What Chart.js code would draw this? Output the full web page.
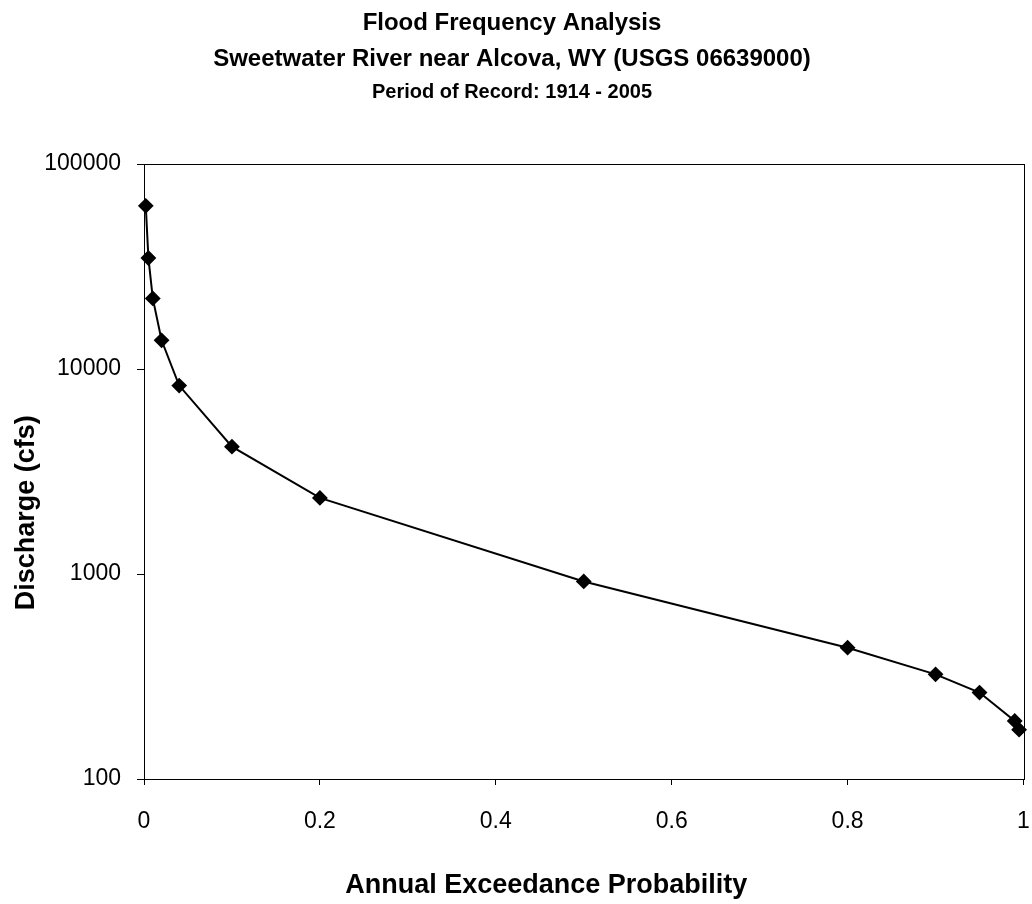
<!DOCTYPE html>
<html>
<head>
<meta charset="utf-8">
<script src="https://cdn.jsdelivr.net/npm/chart.js@4.4.1/dist/chart.umd.min.js"></script>
<style>
  html, body { margin: 0; padding: 0; background: #ffffff; }
  #wrap { width: 1032px; height: 904px; position: relative; }
</style>
</head>
<body>
<div id="wrap"><canvas id="c" width="1032" height="904"></canvas></div>
<script>
// ---- data ----
const titleLines = ['Flood Frequency Analysis', 'Sweetwater River near Alcova, WY (USGS 06639000)'];
const subtitleText = 'Period of Record: 1914 - 2005';
const xTitle = 'Annual Exceedance Probability';
const yTitle = 'Discharge (cfs)';
const exceedance = [0.002, 0.005, 0.01, 0.02, 0.04, 0.1, 0.2, 0.5, 0.8, 0.9, 0.95, 0.99, 0.995];
const discharge = [62500, 34800, 22100, 13800, 8300, 4180, 2350, 920, 437, 324, 264, 192, 174];
const yTickValues = [100, 1000, 10000, 100000];
const xTickValues = [0, 0.2, 0.4, 0.6, 0.8, 1];

const points = exceedance.map((x, i) => ({ x: x, y: discharge[i] }));

const frame = {
  id: 'frame',
  afterDatasetsDraw(chart) {
    const a = chart.chartArea, ctx = chart.ctx;
    ctx.save();
    ctx.strokeStyle = '#000';
    ctx.lineWidth = 1;
    ctx.strokeRect(Math.round(a.left) + 0.5, Math.round(a.top) + 0.5,
                   Math.round(a.right - a.left), Math.round(a.bottom - a.top));
    ctx.restore();
  }
};

const FONT = "'Liberation Sans', Arial, sans-serif";
const pad = n => ' '.repeat(n);

new Chart(document.getElementById('c'), {
  type: 'line',
  data: {
    datasets: [{
      data: points,
      borderColor: '#000',
      backgroundColor: '#000',
      borderWidth: 2,
      pointStyle: 'rectRot',
      pointRadius: 6.5,
      pointHoverRadius: 6.5,
      pointBackgroundColor: '#000',
      pointBorderColor: '#000',
      tension: 0,
      fill: false,
      clip: false
    }]
  },
  options: {
    responsive: false,
    animation: false,
    layout: { padding: { top: 5, right: 8, left: 0, bottom: 0 } },
    plugins: {
      legend: { display: false },
      tooltip: { enabled: false },
      title: {
        display: true,
        text: titleLines,
        color: '#000',
        font: { family: FONT, size: 24, weight: 'bold', lineHeight: 1.5 },
        padding: { top: 0, bottom: 0 }
      },
      subtitle: {
        display: true,
        text: subtitleText,
        color: '#000',
        font: { family: FONT, size: 20, weight: 'bold', lineHeight: 1.2 },
        padding: { top: 3, bottom: 60 }
      }
    },
    scales: {
      x: {
        type: 'linear',
        min: 0,
        max: 1,
        afterBuildTicks(scale) { scale.ticks = xTickValues.map(v => ({ value: v })); },
        afterFit(scale) { scale.height = 125; scale.paddingLeft = 0; scale.paddingRight = 0; },
        ticks: {
          color: '#000',
          font: { family: FONT, size: 23 },
          padding: 23,
          maxRotation: 0,
          callback: v => String(v)
        },
        grid: { drawOnChartArea: false, drawTicks: true, tickLength: 6, color: '#000' },
        border: { display: true, color: '#000', width: 1 },
        title: {
          display: true,
          text: xTitle + pad(10),
          color: '#000',
          font: { family: FONT, size: 27, weight: 'bold', lineHeight: 1.2 },
          padding: { top: 0, bottom: 2 }
        }
      },
      y: {
        type: 'logarithmic',
        min: 100,
        max: 100000,
        afterBuildTicks(scale) { scale.ticks = yTickValues.map(v => ({ value: v })); },
        afterFit(scale) { scale.width = 144; },
        ticks: {
          color: '#000',
          font: { family: FONT, size: 23 },
          padding: 16,
          callback: v => String(v)
        },
        grid: { drawOnChartArea: false, drawTicks: true, tickLength: 7, color: '#000' },
        border: { display: true, color: '#000', width: 1 },
        title: {
          display: true,
          text: yTitle + pad(11),
          color: '#000',
          font: { family: FONT, size: 27, weight: 'bold', lineHeight: 1.2 },
          padding: { top: 10, bottom: 0 }
        }
      }
    }
  },
  plugins: [frame]
});
</script>
</body>
</html>
